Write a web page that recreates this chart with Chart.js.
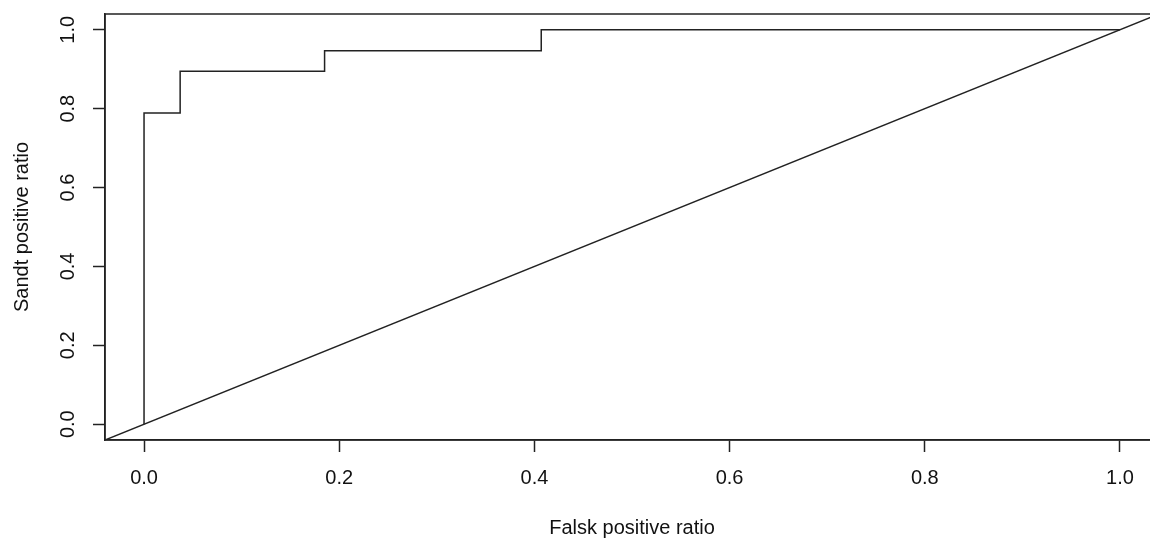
<!DOCTYPE html>
<html lang="da">
<head>
  <meta charset="UTF-8">
  <title>ROC</title>
  <script src="https://cdn.jsdelivr.net/npm/chart.js"></script>
  <style>
    html, body { margin: 0; padding: 0; overflow: hidden; background: #fff; }
  </style>
</head>
<body>
<canvas id="rocChart" width="1165" height="540"></canvas>

<script>
  // ROC curve corner points
  var falskPositiv = [0, 0, 0.037, 0.037, 0.185, 0.185, 0.407, 0.407, 1.0];
  var sandtPositiv = [0, 0.789, 0.789, 0.895, 0.895, 0.947, 0.947, 1.0, 1.0];

  // reference line y = x over the whole plot range
  var diagX = [-0.04, 1.04];
  var diagY = [-0.04, 1.04];

  var xTicks = [0, 0.2, 0.4, 0.6, 0.8, 1.0];
  var yTicks = [0, 0.2, 0.4, 0.6, 0.8, 1.0];

  Chart.defaults.font.family = "'Liberation Sans', Arial, sans-serif";
  Chart.defaults.color = '#111';

  function toPoints(xs, ys) {
    return xs.map(function(x, i) { return {x: x, y: ys[i]}; });
  }

  // draw the full box round the plot area
  var boxPlugin = {
    id: 'box',
    afterDatasetsDraw: function(chart) {
      var a = chart.chartArea, ctx = chart.ctx;
      ctx.save();
      ctx.strokeStyle = '#222';
      ctx.lineWidth = 1.5;
      ctx.strokeRect(a.left, a.top, a.right - a.left, a.bottom - a.top);
      ctx.restore();
    }
  };

  var ctx = document.getElementById('rocChart').getContext('2d');
  new Chart(ctx, {
    type: 'scatter',
    data: {
      datasets: [{
        data: toPoints(falskPositiv, sandtPositiv),
        showLine: true,
        borderColor: '#222',
        borderWidth: 1.5,
        pointRadius: 0,
        fill: false
      }, {
        data: toPoints(diagX, diagY),
        showLine: true,
        borderColor: '#222',
        borderWidth: 1.5,
        pointRadius: 0,
        fill: false
      }]
    },
    plugins: [boxPlugin],
    options: {
      responsive: false,
      animation: false,
      layout: { padding: { top: 14, right: 6, left: 0, bottom: 0 } },
      plugins: { legend: { display: false }, tooltip: { enabled: false } },
      scales: {
        x: {
          type: 'linear',
          min: -0.04,
          max: 1.04,
          afterBuildTicks: function(scale) {
            scale.ticks = xTicks.map(function(v) { return {value: v}; });
          },
          afterFit: function(scale) {
            scale.height = 100;
            scale.paddingLeft = 0;
            scale.paddingRight = 0;
          },
          grid: { drawOnChartArea: false, drawTicks: true, tickLength: 12, tickColor: '#222', tickWidth: 1.5 },
          border: { display: true, color: '#222', width: 1.5 },
          ticks: {
            padding: 14,
            maxRotation: 0,
            font: { size: 20 },
            callback: function(v) { return v.toFixed(1); }
          },
          title: {
            display: true,
            text: 'Falsk positive ratio',
            font: { size: 20 },
            padding: { top: 0, bottom: 0 }
          }
        },
        y: {
          type: 'linear',
          min: -0.04,
          max: 1.04,
          afterBuildTicks: function(scale) {
            scale.ticks = yTicks.map(function(v) { return {value: v}; });
          },
          afterFit: function(scale) {
            scale.width = 105;
            scale.paddingTop = 0;
            scale.paddingBottom = 0;
          },
          grid: { drawOnChartArea: false, drawTicks: true, tickLength: 12, tickColor: '#222', tickWidth: 1.5 },
          border: { display: true, color: '#222', width: 1.5 },
          ticks: {
            padding: 11,
            minRotation: 90,
            maxRotation: 90,
            crossAlign: 'center',
            font: { size: 20 },
            callback: function(v) { return v.toFixed(1); }
          },
          title: {
            display: true,
            text: 'Sandt positive ratio',
            font: { size: 20 },
            padding: { top: 10, bottom: 0 }
          }
        }
      }
    }
  });
</script>
</body>
</html>
